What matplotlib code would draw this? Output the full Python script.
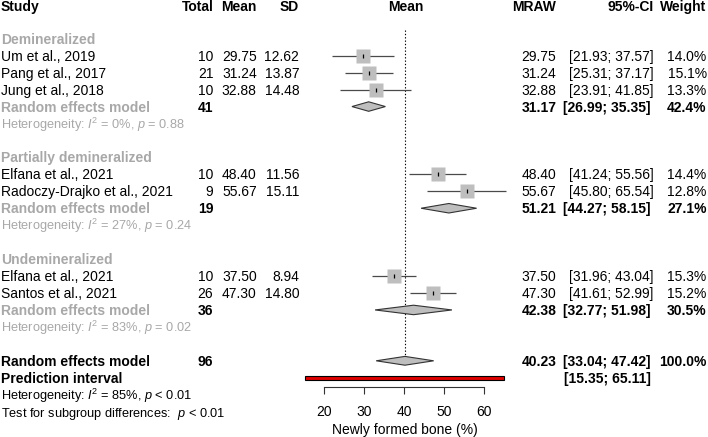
import matplotlib
matplotlib.use("Agg")
import matplotlib.pyplot as plt
import numpy as np
from matplotlib.patches import Rectangle, Polygon

plt.rcParams['font.family'] = ['Liberation Sans', 'DejaVu Sans']
plt.rcParams['mathtext.fontset'] = 'custom'
plt.rcParams['mathtext.rm'] = 'Liberation Sans'
plt.rcParams['mathtext.it'] = 'Liberation Sans:italic'
plt.rcParams['mathtext.bf'] = 'Liberation Sans:bold'

# ---------------- data ----------------
group_names = ["Demineralized", "Partially demineralized", "Undemineralized"]
study_group = [0, 0, 0, 1, 1, 2, 2]
studies = ["Um et al., 2019", "Pang et al., 2017", "Jung et al., 2018",
           "Elfana et al., 2021", "Radoczy-Drajko et al., 2021",
           "Elfana et al., 2021", "Santos et al., 2021"]
totals = [10, 21, 10, 10, 9, 10, 26]
means = [29.75, 31.24, 32.88, 48.40, 55.67, 37.50, 47.30]
sds = [12.62, 13.87, 14.48, 11.56, 15.11, 8.94, 14.80]
ci_low = [21.93, 25.31, 23.91, 41.24, 45.80, 31.96, 41.61]
ci_high = [37.57, 37.17, 41.85, 55.56, 65.54, 43.04, 52.99]
weights = [14.0, 15.1, 13.3, 14.4, 12.8, 15.3, 15.2]

sub_total = [41, 19, 36]
sub_mean = [31.17, 51.21, 42.38]
sub_low = [26.99, 44.27, 32.77]
sub_high = [35.35, 58.15, 51.98]
sub_weight = [42.4, 27.1, 30.5]
sub_i2 = [0, 27, 83]
sub_p = ["= 0.88", "= 0.24", "= 0.02"]

overall_total = 96
overall_mean = 40.23
overall_low = 33.04
overall_high = 47.42
overall_weight = 100.0
pred_low = 15.35
pred_high = 65.11
overall_i2 = 85
overall_p = "< 0.01"
subgroup_p = "< 0.01"

x_ticks = [20, 30, 40, 50, 60]
x_label = "Newly formed bone (%)"

# ---------------- layout ----------------
W, H = 708, 437
ROW_PX = 16.95
ROW3_PX = 55.7
r_top = 3 - ROW3_PX / ROW_PX
r_bot = 3 + (H - ROW3_PX) / ROW_PX

fig = plt.figure(figsize=(W / 100, H / 100), dpi=100)
tax = fig.add_axes([0, 0, 1, 1])
tax.set_xlim(0, W)
tax.set_ylim(r_bot, r_top)
tax.axis('off')

ax = fig.add_axes([300 / W, 0, 210 / W, 1])
ax.set_xlim(14, 66.5)
ax.set_ylim(r_bot, r_top)
ax.patch.set_alpha(0)

FS = 10
HFS = 9.2
GRAY = '#A8A8A8'
BOX = '#BEBEBE'
LINE = '#4a4a4a'
BL = 0.3  # baseline offset in rows

X_STUDY, X_TOTAL, X_MEAN, X_SD = 1, 213.3, 256.7, 299.3
X_MRAW, X_CI, X_W = 556.3, 653.3, 706.7
X_CI_B = 650.5


def txt(x, r, s, ha='right', bold=False, color='black', size=FS):
    tax.text(x, r + BL, s, ha=ha, va='baseline', fontsize=size,
             fontweight='bold' if bold else 'normal', color=color)


# header
hr = 0.07
txt(X_STUDY, hr, "Study", ha='left', bold=True)
txt(X_TOTAL, hr, "Total", bold=True)
txt(X_MEAN, hr, "Mean", bold=True)
txt(X_SD, hr, "SD", bold=True)
txt(405.5, hr, "Mean", ha='center', bold=True)
txt(X_MRAW, hr, "MRAW", bold=True)
txt(X_CI, hr, "95%-CI", bold=True)
txt(X_W, hr, "Weight", bold=True)


def diamond(r, lo, m, hi, h=0.28):
    poly = Polygon([(lo, r), (m, r - h), (hi, r), (m, r + h)], closed=True,
                   facecolor=BOX, edgecolor='#333333', lw=0.8, zorder=3)
    ax.add_patch(poly)


row = 2
for g, gname in enumerate(group_names):
    txt(X_STUDY, row, gname, ha='left', bold=True, color=GRAY)
    row += 1
    for i in [k for k in range(len(studies)) if study_group[k] == g]:
        txt(X_STUDY, row, studies[i], ha='left')
        txt(X_TOTAL, row, f"{totals[i]}")
        txt(X_MEAN, row, f"{means[i]:.2f}")
        txt(X_SD, row, f"{sds[i]:.2f}")
        txt(X_MRAW, row, f"{means[i]:.2f}")
        txt(X_CI, row, f"[{ci_low[i]:.2f}; {ci_high[i]:.2f}]")
        txt(X_W, row, f"{weights[i]:.1f}%")
        ax.hlines(row, ci_low[i], ci_high[i], color=LINE, lw=0.9, zorder=2)
        ax.plot(means[i], row, marker='s', ms=10.2 * np.sqrt(weights[i] / 14.5),
                mfc=BOX, mec='none', zorder=3)
        ax.plot(means[i], row, marker='|', ms=3.5, mew=0.9, color='black', zorder=4)
        row += 1
    txt(X_STUDY, row, "Random effects model", ha='left', bold=True, color=GRAY)
    txt(X_TOTAL, row, f"{sub_total[g]}", bold=True)
    txt(X_MRAW, row, f"{sub_mean[g]:.2f}", bold=True)
    txt(X_CI_B, row, f"[{sub_low[g]:.2f}; {sub_high[g]:.2f}]", bold=True)
    txt(X_W, row, f"{sub_weight[g]:.1f}%", bold=True)
    diamond(row, sub_low[g], sub_mean[g], sub_high[g])
    row += 1
    txt(X_STUDY, row, rf"Heterogeneity: $I^2$ = {sub_i2[g]}%, $p$ {sub_p[g]}",
        ha='left', color=GRAY, size=HFS)
    row += 2

# overall
r_all = row
txt(X_STUDY, r_all, "Random effects model", ha='left', bold=True)
txt(X_TOTAL, r_all, f"{overall_total}", bold=True)
txt(X_MRAW, r_all, f"{overall_mean:.2f}", bold=True)
txt(X_CI_B, r_all, f"[{overall_low:.2f}; {overall_high:.2f}]", bold=True)
txt(X_W, r_all, f"{overall_weight:.1f}%", bold=True)
diamond(r_all, overall_low, overall_mean, overall_high, h=0.26)

r_pi = r_all + 1
txt(X_STUDY, r_pi, "Prediction interval", ha='left', bold=True)
txt(X_CI_B, r_pi, f"[{pred_low:.2f}; {pred_high:.2f}]", bold=True)
ax.add_patch(Rectangle((pred_low, r_pi - 0.11), pred_high - pred_low, 0.22,
                       facecolor='#E00000', edgecolor='black', lw=0.8, zorder=3))

txt(X_STUDY, r_pi + 1, rf"Heterogeneity: $I^2$ = {overall_i2}%, $p$ {overall_p}",
    ha='left', size=HFS)
txt(X_STUDY, r_pi + 2, rf"Test for subgroup differences:  $p$ {subgroup_p}",
    ha='left', size=HFS)

# reference line at overall estimate
ax.vlines(overall_mean, 1.48, r_all - 0.27, color='black', lw=0.8,
          linestyles=(0, (1.2, 1.8)), zorder=1)

# x axis
for s in ['top', 'right', 'left']:
    ax.spines[s].set_visible(False)
ax.spines['bottom'].set_position(('data', 3 + (386.7 - ROW3_PX) / ROW_PX))
ax.spines['bottom'].set_bounds(x_ticks[0], x_ticks[-1])
ax.spines['bottom'].set_color('#333333')
ax.spines['bottom'].set_linewidth(0.8)
ax.set_xticks(x_ticks)
ax.set_xticklabels([str(t) for t in x_ticks])
ax.tick_params(axis='x', length=5.2, width=0.8, color='#333333', pad=8.2,
               labelsize=FS)
ax.set_yticks([])
ax.set_xlabel(x_label, fontsize=FS, labelpad=2.5)

fig.savefig("out.png", dpi=100)
